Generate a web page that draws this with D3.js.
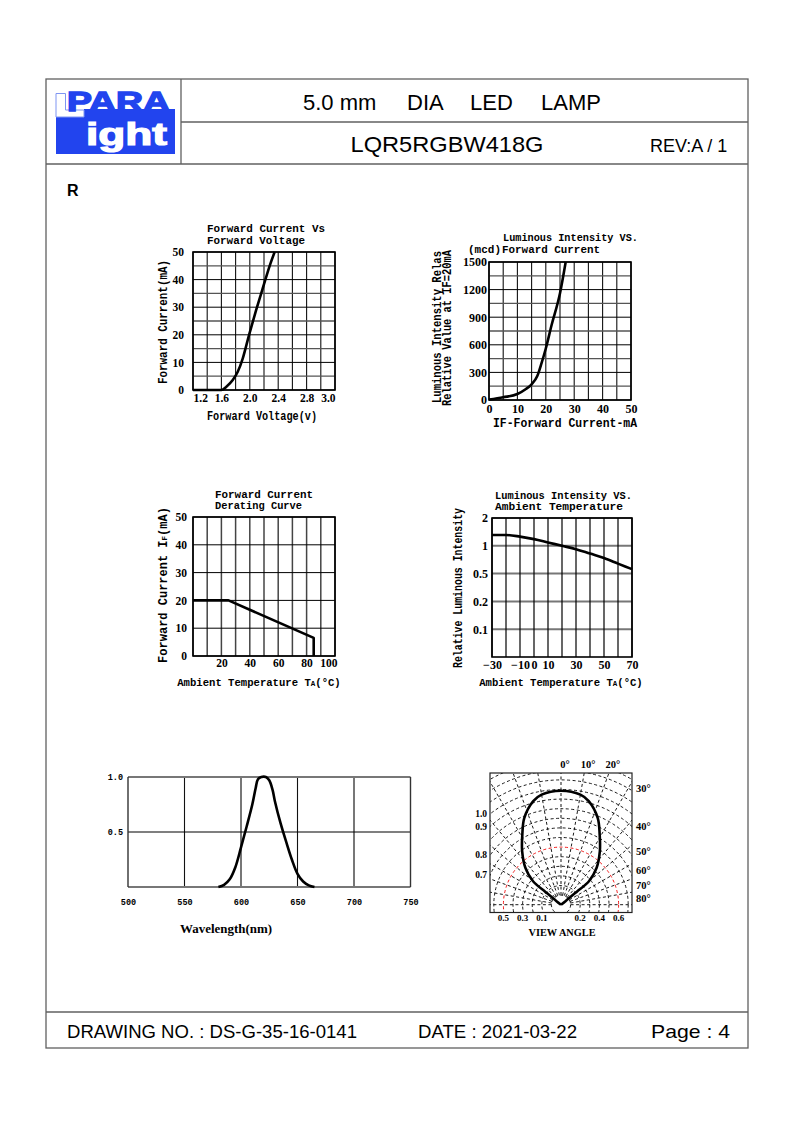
<!DOCTYPE html>
<html><head><meta charset="utf-8">
<script src="https://cdn.jsdelivr.net/npm/d3@7/dist/d3.min.js"></script>
<style>body{margin:0;background:#fff}svg{display:block}</style>
</head><body>
<svg id="page" width="794" height="1123"></svg>
<script>
// ---------------- DATA ----------------
// Chart 1: Forward Current vs Forward Voltage
const vfVoltage = [1.2, 1.6, 1.67, 1.76, 1.83, 1.9, 1.99, 2.09, 2.19, 2.28, 2.35];
const vfCurrent = [0, 0, 1.2, 3.6, 6.6, 11.4, 20, 29, 37.5, 45, 50];
const vfXTicks = [1.2, 1.6, 2.0, 2.4, 2.8, 3.2];
const vfXTickLabels = ["1.2", "1.6", "2.0", "2.4", "2.8", "3.0"];
const vfYTicks = [0, 10, 20, 30, 40, 50];

// Chart 2: Luminous Intensity vs Forward Current
const liCurrent = [0, 5, 10, 13, 15, 17, 18.5, 20, 22, 25, 27];
const liMcd = [5, 30, 65, 120, 170, 260, 400, 560, 810, 1160, 1500];
const liXTicks = [0, 10, 20, 30, 40, 50];
const liYTicks = [0, 300, 600, 900, 1200, 1500];

// Chart 3: Forward Current Derating Curve
const drTemp = [0, 25, 85, 85];
const drCurrent = [20, 20, 6.5, 0];
const drXTicks = [20, 40, 60, 80, 100];
const drYTicks = [0, 10, 20, 30, 40, 50];

// Chart 4: Luminous Intensity vs Ambient Temperature
const ltTemp = [-30, -20, -10, 0, 10, 20, 30, 40, 50, 60, 70];
const ltRel = [1.39, 1.39, 1.33, 1.24, 1.12, 1.0, 0.94, 0.86, 0.78, 0.68, 0.58];
const ltXTicks = [-30, -10, 0, 10, 30, 50, 70];
const ltYTicks = [0.1, 0.2, 0.5, 1, 2];
const ltYLevels = [0.05, 0.1, 0.2, 0.5, 1, 2];

// Chart 5: Spectrum
const spWave = [580, 585, 590, 595, 600, 605, 610, 613, 615, 618, 622, 625, 628, 630, 635, 640, 645, 650, 655, 660, 665];
const spRel = [0, 0.02, 0.07, 0.18, 0.36, 0.55, 0.75, 0.9, 0.98, 1.0, 1.0, 0.97, 0.88, 0.78, 0.58, 0.41, 0.25, 0.12, 0.05, 0.015, 0];
const spXTicks = [500, 550, 600, 650, 700, 750];
const spYTicks = [0.5, 1.0];

// Chart 6: Radiation pattern (angle from axis, relative intensity)
const radAngle = [0, 10, 15, 23, 29, 36, 44, 50, 50.5, 52, 52];
const radRel = [1, 0.98, 0.94, 0.825, 0.70, 0.58, 0.45, 0.32, 0.18, 0.05, 0];
const radGridAngles = [-90, -80, -70, -60, -50, -40, -30, -20, -10, 0, 10, 20, 30, 40, 50, 60, 70, 80, 90];
const radRings = [1, 2, 3, 4, 5, 6, 7, 8, 9, 10, 11, 12, 13, 14, 15, 16];
const radTopLabels = ["0°", "10°", "20°"], radTopAngles = [0, 10, 20];
const radRightLabels = ["30°", "40°", "50°", "60°", "70°", "80°"], radRightAngles = [30, 40, 50, 60, 70, 80];
const radLeftLabels = ["1.0", "0.9", "0.8", "0.7"], radLeftRings = [12, 11, 9, 8];
const radBottomLabels = ["0.5", "0.3", "0.1", "0.2", "0.4", "0.6"], radBottomRings = [-6, -4, -2, 2, 4, 6];

// ---------------- HELPERS ----------------
const MONO = "'Liberation Mono','DejaVu Sans Mono',monospace";
const SERIF = "'Liberation Serif','DejaVu Serif',serif";
const SANS = "'Liberation Sans',Arial,sans-serif";
const svg = d3.select('#page');

function txt(g, x, y, s, o = {}) {
  const t = g.append('text').attr('x', x).attr('y', y).text(s)
    .attr('font-family', o.family || MONO).attr('font-size', o.size || 12)
    .attr('font-weight', o.weight || 'bold').attr('text-anchor', o.anchor || 'start')
    .attr('fill', o.fill || '#000');
  if (o.rotate) t.attr('transform', `rotate(-90,${x},${y})`);
  if (o.len) t.attr('textLength', o.len).attr('lengthAdjust', 'spacingAndGlyphs');
  if (o.stroke) t.attr('stroke', o.fill || '#000').attr('stroke-width', o.stroke);
  return t;
}
function vLines(g, x, y, vals, color, w) {
  const r = y.range();
  g.append('g').selectAll('line').data(vals).join('line')
    .attr('x1', d => x(d)).attr('x2', d => x(d))
    .attr('y1', r[0]).attr('y2', r[r.length - 1])
    .attr('stroke', typeof color === 'function' ? color : () => color)
    .attr('stroke-width', typeof w === 'function' ? w : () => w);
}
function hLines(g, x, y, vals, color, w) {
  const r = x.range();
  g.append('g').selectAll('line').data(vals).join('line')
    .attr('y1', d => y(d)).attr('y2', d => y(d))
    .attr('x1', r[0]).attr('x2', r[r.length - 1])
    .attr('stroke', typeof color === 'function' ? color : () => color)
    .attr('stroke-width', typeof w === 'function' ? w : () => w);
}
function frame(g, x, y, w = 1.6, c = '#000') {
  const xr = x.range(), yr = y.range();
  g.append('rect').attr('x', xr[0]).attr('y', yr[yr.length - 1])
    .attr('width', xr[xr.length - 1] - xr[0]).attr('height', yr[0] - yr[yr.length - 1])
    .attr('fill', 'none').attr('stroke', c).attr('stroke-width', w);
}
function styleAxis(a, size, fam) {
  a.attr('font-family', fam || SERIF).attr('font-size', size).attr('font-weight', 'bold');
  a.select('.domain').remove();
  a.selectAll('line').remove();
  a.selectAll('text').attr('fill', '#000');
}
function curve(g, x, y, xs, ys, w = 2.6, c = d3.curveMonotoneX) {
  g.append('path').datum(xs.map((v, i) => [v, ys[i]]))
    .attr('fill', 'none').attr('stroke', '#000').attr('stroke-width', w)
    .attr('stroke-linejoin', 'round')
    .attr('d', d3.line().x(d => x(d[0])).y(d => y(d[1])).curve(c));
}
function sub(t, a, s, b) {
  t.append('tspan').text(a);
  t.append('tspan').attr('font-size', 7.5).text(s);
  t.append('tspan').text(b);
  return t;
}

// ---------------- PAGE FRAME ----------------
const pf = svg.append('g').attr('stroke', '#606060').attr('stroke-width', 1.3).attr('fill', 'none');
pf.append('rect').attr('x', 46).attr('y', 79).attr('width', 702).attr('height', 969);
pf.append('line').attr('x1', 181).attr('x2', 181).attr('y1', 79).attr('y2', 164);
pf.append('line').attr('x1', 181).attr('x2', 748).attr('y1', 122).attr('y2', 122);
pf.append('line').attr('x1', 46).attr('x2', 748).attr('y1', 164).attr('y2', 164);
pf.append('line').attr('x1', 46).attr('x2', 748).attr('y1', 1012).attr('y2', 1012);

// Logo
const BLUE = '#2244ee';
const lg = svg.append('g');
lg.append('rect').attr('x', 56).attr('y', 117).attr('width', 119).attr('height', 37).attr('fill', BLUE);
lg.append('rect').attr('x', 84).attr('y', 109).attr('width', 91).attr('height', 9).attr('fill', BLUE);
lg.append('path').attr('d', 'M56,93.5 H65.5 V110 H84 V117 H56 Z').attr('fill', '#fff')
  .attr('stroke', '#7f95f2').attr('stroke-width', 1);
txt(lg, 67, 110.5, 'PARA', { family: SANS, size: 27, fill: BLUE, len: 103, stroke: 1.4 });
txt(lg, 86, 145, 'ight', { family: SANS, size: 31, fill: '#fff', len: 81, stroke: 1.2 });

// Header texts
const hd = svg.append('g');
txt(hd, 303, 110, '5.0 mm', { family: SANS, size: 22, weight: 'normal' });
txt(hd, 407, 110, 'DIA', { family: SANS, size: 22, weight: 'normal' });
txt(hd, 470, 110, 'LED', { family: SANS, size: 22, weight: 'normal' });
txt(hd, 541, 110, 'LAMP', { family: SANS, size: 22, weight: 'normal' });
txt(hd, 447, 152, 'LQR5RGBW418G', { family: SANS, size: 22, weight: 'normal', anchor: 'middle', len: 193 });
txt(hd, 650, 152, 'REV:A / 1', { family: SANS, size: 18, weight: 'normal' });
txt(hd, 67, 196, 'R', { family: SANS, size: 16, weight: 'bold' });
txt(hd, 67, 1038, 'DRAWING NO. : DS-G-35-16-0141', { family: SANS, size: 18.5, weight: 'normal', len: 290 });
txt(hd, 418, 1038, 'DATE : 2021-03-22', { family: SANS, size: 18.5, weight: 'normal', len: 159 });
txt(hd, 651, 1038, 'Page : 4', { family: SANS, size: 18.5, weight: 'normal', len: 79 });

const TS = 10.5; // chart title font size

// ---------------- CHART 1 ----------------
{
  const g = svg.append('g');
  const x = d3.scaleLinear([1.2, 3.2], [193, 335]);
  const y = d3.scaleLinear([0, 50], [390, 252]);
  vLines(g, x, y, d3.ticks(1.2, 3.2, 10), '#111', 1.1);
  hLines(g, x, y, d3.ticks(0, 50, 10), (d) => d % 10 === 0 ? '#000' : '#555', (d) => d % 10 === 0 ? 1 : 1.3);
  frame(g, x, y);
  curve(g, x, y, vfVoltage, vfCurrent, 2.6);
  const ax = g.append('g').attr('transform', 'translate(0,390)')
    .call(d3.axisBottom(x).tickValues(vfXTicks).tickSize(0).tickPadding(4).tickFormat((d, i) => vfXTickLabels[i]));
  styleAxis(ax, 11.5);
  ax.selectAll('text').attr('text-anchor', (d, i) => i === 0 ? 'start' : i === vfXTicks.length - 1 ? 'end' : 'middle');
  const ay = g.append('g').attr('transform', 'translate(193,0)')
    .call(d3.axisLeft(y).tickValues(vfYTicks).tickSize(0).tickPadding(9));
  styleAxis(ay, 11.5);
  txt(g, 207, 231.5, 'Forward Current Vs', { size: TS, len: 118 });
  txt(g, 207, 243.5, 'Forward Voltage', { size: TS, len: 98 });
  txt(g, 262, 420, 'Forward Voltage(v)', { anchor: 'middle', len: 110 });
  txt(g, 167, 322, 'Forward Current(mA)', { anchor: 'middle', rotate: true, len: 124 });
}

// ---------------- CHART 2 ----------------
{
  const g = svg.append('g');
  const x = d3.scaleLinear([0, 50], [489, 631]);
  const y = d3.scaleLinear([0, 1500], [400, 262]);
  vLines(g, x, y, d3.range(0, 51, 5), '#111', 1.1);
  hLines(g, x, y, d3.range(0, 1501, 150), (d) => d % 300 === 0 ? '#000' : '#555', (d) => d % 300 === 0 ? 1 : 1.3);
  frame(g, x, y);
  curve(g, x, y, liCurrent, liMcd, 2.6);
  const ax = g.append('g').attr('transform', 'translate(0,400)')
    .call(d3.axisBottom(x).tickValues(liXTicks).tickSize(0).tickPadding(4));
  styleAxis(ax, 12);
  const ay = g.append('g').attr('transform', 'translate(489,0)')
    .call(d3.axisLeft(y).tickValues(liYTicks).tickSize(0).tickPadding(2).tickFormat(d3.format('d')));
  styleAxis(ay, 12);
  txt(g, 503, 241, 'Luminous Intensity VS.', { size: TS, len: 135 });
  txt(g, 468, 253, '(mcd)', { size: TS, len: 33 });
  txt(g, 502, 253, 'Forward Current', { size: TS, len: 98 });
  txt(g, 565, 427, 'IF-Forward Current-mA', { anchor: 'middle', len: 144 });
  txt(g, 441, 327, 'Luminous Intensity Relas', { anchor: 'middle', rotate: true, len: 152 });
  txt(g, 451, 328, 'Relative Value at IF=20mA', { anchor: 'middle', rotate: true, len: 156 });
}

// ---------------- CHART 3 ----------------
{
  const g = svg.append('g');
  const x = d3.scaleLinear([0, 100], [193, 335]);
  const y = d3.scaleLinear([0, 50], [656, 517]);
  vLines(g, x, y, d3.range(0, 101, 10), '#444', 1.5);
  hLines(g, x, y, d3.range(0, 51, 10), '#000', 1);
  frame(g, x, y);
  curve(g, x, y, drTemp, drCurrent, 2.6, d3.curveLinear);
  const ax = g.append('g').attr('transform', 'translate(0,656)')
    .call(d3.axisBottom(x).tickValues(drXTicks).tickSize(0).tickPadding(3));
  styleAxis(ax, 11.5);
  ax.selectAll('text').attr('text-anchor', (d, i) => i === drXTicks.length - 1 ? 'end' : 'middle')
    .attr('dx', (d, i) => i === drXTicks.length - 1 ? 2 : 0);
  const ay = g.append('g').attr('transform', 'translate(193,0)')
    .call(d3.axisLeft(y).tickValues(drYTicks).tickSize(0).tickPadding(6));
  styleAxis(ay, 11.5);
  txt(g, 215, 497.5, 'Forward Current', { size: TS, len: 98 });
  txt(g, 215, 509, 'Derating Curve', { size: TS, len: 87 });
  sub(txt(g, 259, 686, '', { size: 10.6, anchor: 'middle' }), 'Ambient Temperature T', 'A', '(°C)');
  sub(txt(g, 167, 585, '', { anchor: 'middle', rotate: true }), 'Forward Current I', 'F', '(mA)');
}

// ---------------- CHART 4 ----------------
{
  const g = svg.append('g');
  const x = d3.scaleLinear([-30, 70], [492, 632]);
  const y = d3.scaleLinear(ltYLevels, d3.range(6).map(i => 657 - i * 27.8));
  hLines(g, x, y, ltYTicks, '#777', 2);
  vLines(g, x, y, d3.range(-30, 71, 10), '#000', 1.2);
  frame(g, x, y);
  curve(g, x, y, ltTemp, ltRel, 2.6);
  const ax = g.append('g').attr('transform', 'translate(0,657)')
    .call(d3.axisBottom(x).tickValues(ltXTicks).tickSize(0).tickPadding(3)
      .tickFormat(d => d < 0 ? '\u2212' + Math.abs(d) : d));
  styleAxis(ax, 12);
  const ay = g.append('g').attr('transform', 'translate(492,0)')
    .call(d3.axisLeft(y).tickValues(ltYTicks).tickSize(0).tickPadding(4).tickFormat(d => String(d)));
  styleAxis(ay, 12);
  txt(g, 495, 498.5, 'Luminous Intensity VS.', { size: TS, len: 137 });
  txt(g, 495, 510, 'Ambient Temperature', { size: TS, len: 128 });
  sub(txt(g, 561, 686, '', { size: 10.6, anchor: 'middle' }), 'Ambient Temperature T', 'A', '(°C)');
  txt(g, 462, 588, 'Relative Luminous Intensity', { anchor: 'middle', rotate: true, len: 160 });
}

// ---------------- CHART 5: SPECTRUM ----------------
{
  const g = svg.append('g');
  const x = d3.scaleLinear([500, 750], [128, 410.5]);
  const y = d3.scaleLinear([0, 1], [887, 777]);
  vLines(g, x, y, [550, 650], '#111', 1.1);
  vLines(g, x, y, [600, 700], '#777', 2);
  hLines(g, x, y, [0.5], '#000', 1.1);
  hLines(g, x, y, [0, 1], '#777', 2);
  vLines(g, x, y, [500, 750], '#333', 1.4);
  curve(g, x, y, spWave, spRel, 2.6, d3.curveCatmullRom);
  const ax = g.append('g').attr('transform', 'translate(0,887)')
    .call(d3.axisBottom(x).tickValues(spXTicks).tickSize(0).tickPadding(12));
  styleAxis(ax, 8.5, MONO);
  const ay = g.append('g').attr('transform', 'translate(128,0)')
    .call(d3.axisLeft(y).tickValues(spYTicks).tickSize(0).tickPadding(5).tickFormat(d3.format('.1f')));
  styleAxis(ay, 8.5, MONO);
  txt(g, 226, 933, 'Wavelength(nm)', { anchor: 'middle', family: SERIF, size: 11.5, len: 92 });
}

// ---------------- CHART 6: RADIATION PATTERN ----------------
{
  const g = svg.append('g');
  const O = [561, 904.7];
  const box = { x0: 490, x1: 632, y0: 773, y1: 912.5 };
  const ring = d3.scaleLinear([0, 6], [0, 57.6]);
  const rS = d3.scaleLinear([0, 1], [0, 114]);
  const rad = a => a * Math.PI / 180;
  svg.append('defs').append('clipPath').attr('id', 'pclip').append('rect')
    .attr('x', box.x0).attr('y', box.y0).attr('width', box.x1 - box.x0).attr('height', box.y1 - box.y0);
  const gc = g.append('g').attr('clip-path', 'url(#pclip)');
  gc.selectAll('circle.ring').data(radRings).join('circle')
    .attr('cx', O[0]).attr('cy', O[1]).attr('r', d => ring(d)).attr('fill', 'none')
    .attr('stroke', d => d === 6 ? '#e00' : '#000').attr('stroke-width', 0.9)
    .attr('stroke-dasharray', '3,2.5');
  gc.selectAll('line.rad').data(radGridAngles).join('line')
    .attr('x1', d => O[0] + ring(1) * Math.sin(rad(d))).attr('y1', d => O[1] - ring(1) * Math.cos(rad(d)))
    .attr('x2', d => O[0] + 220 * Math.sin(rad(d))).attr('y2', d => O[1] - 220 * Math.cos(rad(d)))
    .attr('stroke', d => d === 0 ? '#555' : '#000').attr('stroke-width', d => d === 0 ? 1.4 : 0.9)
    .attr('stroke-dasharray', '3,2.5');
  g.append('rect').attr('x', box.x0).attr('y', box.y0).attr('width', box.x1 - box.x0).attr('height', box.y1 - box.y0)
    .attr('fill', 'none').attr('stroke', '#222').attr('stroke-width', 1.2);
  const pts = radAngle.map((a, i) => [-a, radRel[i]]).reverse().concat(radAngle.slice(1).map((a, i) => [a, radRel[i + 1]]));
  g.append('path').datum(pts).attr('transform', `translate(${O[0]},${O[1]})`)
    .attr('fill', 'none').attr('stroke', '#000').attr('stroke-width', 2.6).attr('stroke-linejoin', 'round')
    .attr('d', d3.lineRadial().angle(d => rad(d[0])).radius(d => rS(d[1])).curve(d3.curveCatmullRom));
  const dyTop = O[1] - box.y0;
  radTopAngles.forEach((a, i) => txt(g, O[0] + dyTop * Math.tan(rad(a)) + 4, 768, radTopLabels[i], { family: SERIF, size: 10.5, anchor: 'middle' }));
  const dxR = box.x1 - O[0];
  radRightAngles.forEach((a, i) => txt(g, 636, O[1] - dxR / Math.tan(rad(a)) + 10, radRightLabels[i], { family: SERIF, size: 10.5 }));
  const dxL = O[0] - box.x0;
  radLeftRings.forEach((k, i) => {
    const r = ring(k);
    txt(g, 487, O[1] - Math.sqrt(r * r - dxL * dxL) + 3, radLeftLabels[i], { family: SERIF, size: 9.5, anchor: 'end' });
  });
  radBottomRings.forEach((k, i) => txt(g, O[0] + (k < 0 ? -ring(-k) : ring(k)), 921, radBottomLabels[i], { family: SERIF, size: 9, anchor: 'middle' }));
  txt(g, 562, 936, 'VIEW ANGLE', { family: SERIF, size: 10.5, anchor: 'middle', len: 67 });
}
</script></body></html>
